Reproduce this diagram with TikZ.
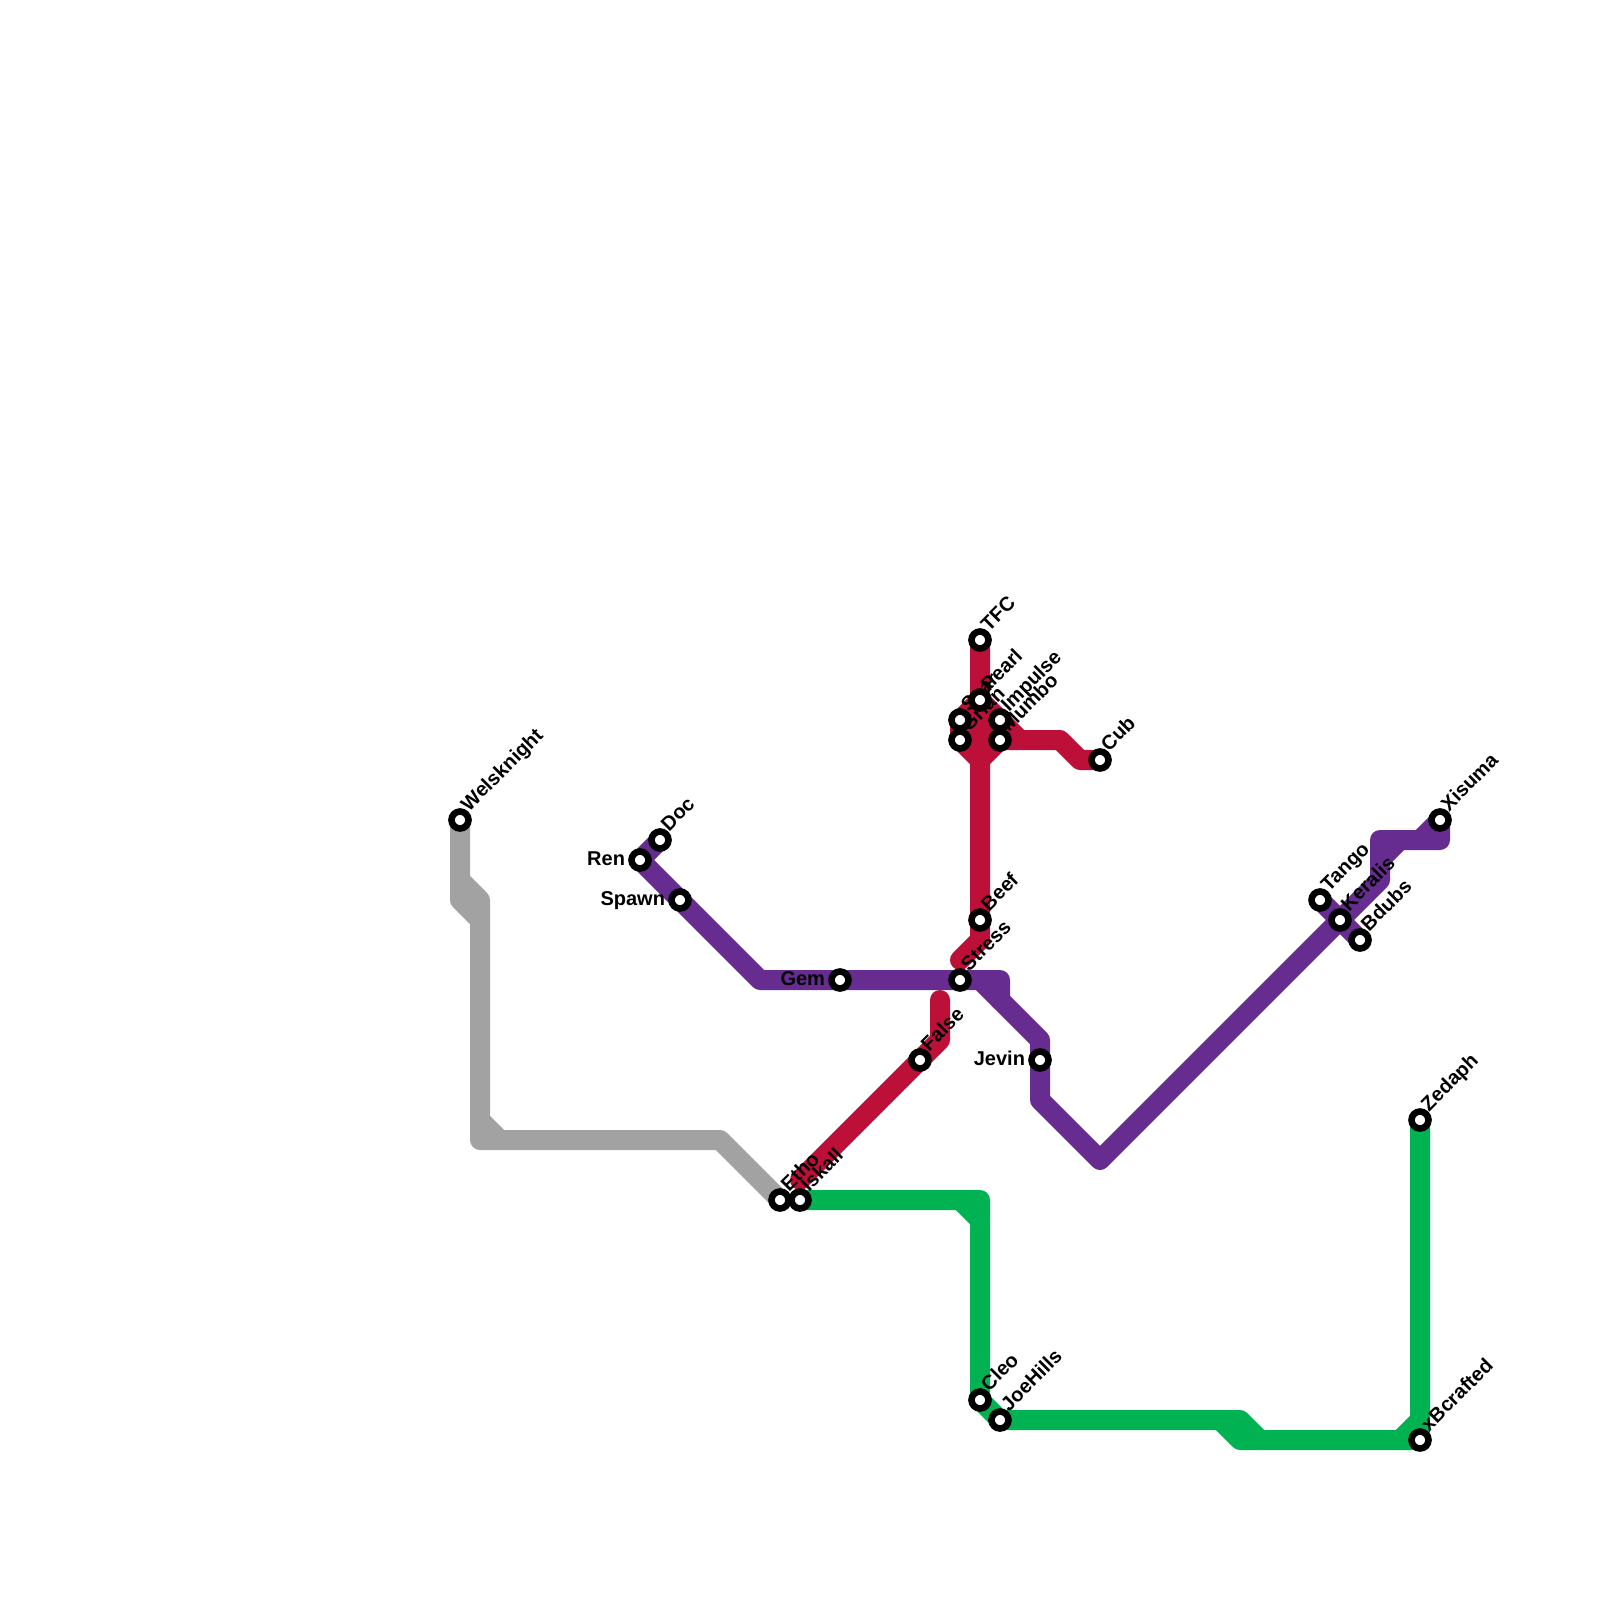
\documentclass[tikz,border=0pt]{standalone}
\usepackage{fontspec}
\setmainfont{Liberation Sans}
\pgfdeclarelayer{backdrop}
\pgfdeclarelayer{lines}
\pgfdeclarelayer{labels}
\pgfsetlayers{backdrop,lines,labels,main}
\definecolor{mred}{HTML}{BD1038}
\definecolor{mpurple}{HTML}{662C90}
\definecolor{mgreen}{HTML}{00B251}
\definecolor{mgrey}{HTML}{A2A2A2}
\tikzset{
  stn/.style={circle,draw=black,fill=white,line width=6.6pt,minimum size=17pt,inner sep=0pt,outer sep=0pt},
  txt/.style={font=\fontsize{20}{20}\selectfont\bfseries,text=black,inner sep=0pt,outer sep=0pt},
  rl/.style={txt,rotate=45,anchor=base west},
  ll/.style={txt,anchor=base east},
  mline/.style={line width=20pt,line cap=round,line join=round},
  redl/.style={mline,draw=mred},
  purl/.style={mline,draw=mpurple},
  grnl/.style={mline,draw=mgreen},
  gryl/.style={mline,draw=mgrey}
}
% station with label up-right
\newcommand{\stnR}[4]{%
  \node[stn] (#1) at (#2,#3) {};
  \begin{pgfonlayer}{labels}
  \node[rl] (#1-t) at ([shift={(9pt,8pt)}]#2pt,-#3pt) {#4};
  \end{pgfonlayer}}
% station with label to the left
\newcommand{\stnL}[4]{%
  \node[stn] (#1) at (#2,#3) {};
  \begin{pgfonlayer}{labels}
  \node[ll] (#1-t) at ([shift={(-15pt,-5pt)}]#2pt,-#3pt) {#4};
  \end{pgfonlayer}}
\begin{document}
\begin{tikzpicture}[x=1pt,y=-1pt]
\useasboundingbox (0,0) rectangle (1600,1600);
\begin{pgfonlayer}{backdrop}
\fill[white] (0,0) rectangle (1600,1600);
\end{pgfonlayer}
% stations
\stnR{welsk}{460}{820}{Welsknight}
\stnR{doc}{660}{840}{Doc}
\stnL{ren}{640}{860}{Ren}
\stnL{spawn}{680}{900}{Spawn}
\stnL{gem}{840}{980}{Gem}
\stnR{stress}{960}{980}{Stress}
\stnR{false}{920}{1060}{False}
\stnL{jevin}{1040}{1060}{Jevin}
\stnR{etho}{780}{1200}{Etho}
\stnR{iskall}{800}{1200}{Iskall}
\stnR{tfc}{980}{640}{TFC}
\stnR{scar}{960}{720}{Scar}
\stnR{grian}{960}{740}{Grian}
\stnR{pearl}{980}{700}{Pearl}
\stnR{impulse}{1000}{720}{Impulse}
\stnR{mumbo}{1000}{740}{Mumbo}
\stnR{cub}{1100}{760}{Cub}
\stnR{beef}{980}{920}{Beef}
\stnR{tango}{1320}{900}{Tango}
\stnR{keralis}{1340}{920}{Keralis}
\stnR{bdubs}{1360}{940}{Bdubs}
\stnR{xisuma}{1440}{820}{Xisuma}
\stnR{zedaph}{1420}{1120}{Zedaph}
\stnR{xb}{1420}{1440}{xBcrafted}
\stnR{cleo}{980}{1400}{Cleo}
\stnR{joe}{1000}{1420}{JoeHills}
% way points
\coordinate (g1) at (460,880); \coordinate (g2) at (480,900);
\coordinate (g3) at (460,900); \coordinate (g4) at (480,920);
\coordinate (g5) at (480,1120); \coordinate (g6) at (500,1140);
\coordinate (g7) at (480,1140); \coordinate (g8) at (720,1140);
\coordinate (r1) at (980,760); \coordinate (r2) at (1020,740);
\coordinate (r3) at (1060,740); \coordinate (r4) at (1080,760);
\coordinate (r5) at (980,940); \coordinate (r6) at (960,960);
\coordinate (r7) at (940,1000); \coordinate (r8) at (940,1040);
\coordinate (r9) at (800,1180);
\coordinate (p1) at (760,980); \coordinate (p2) at (1000,980);
\coordinate (p3) at (980,980); \coordinate (p4) at (1040,1040);
\coordinate (p5) at (1000,1000); \coordinate (p6) at (1040,1100);
\coordinate (p7) at (1100,1160); \coordinate (p8) at (1380,880);
\coordinate (p9) at (1380,840); \coordinate (p10) at (1440,840);
\coordinate (p11) at (1400,840); \coordinate (p12) at (1380,860);
\coordinate (p13) at (1420,840);
\coordinate (n1) at (980,1200); \coordinate (n2) at (960,1200);
\coordinate (n3) at (980,1220); \coordinate (n4) at (1240,1420);
\coordinate (n5) at (1260,1440); \coordinate (n6) at (1220,1420);
\coordinate (n7) at (1240,1440); \coordinate (n8) at (1420,1420);
\coordinate (n9) at (1400,1440);
\begin{pgfonlayer}{lines}
% grey
\draw[gryl] (welsk.center) -- (g3) -- (g4) -- (g7) -- (g8) -- (etho.center);
\draw[gryl] (g1) -- (g2) -- (g4);
\draw[gryl] (g5) -- (g6);
% red
\draw[redl] (tfc.center) -- (beef.center) -- (r5) -- (r6);
\draw[redl] (pearl.center) -- (scar.center) -- (grian.center) -- (r1) -- (mumbo.center) -- (impulse.center) -- (pearl.center);
\draw[redl] (scar.center) -- (impulse.center);
\draw[redl] (grian.center) -- (mumbo.center) -- (r3) -- (r4) -- (cub.center);
\draw[redl] (impulse.center) -- (r2);
\draw[redl] (r7) -- (r8) -- (false.center) -- (r9);
% purple
\draw[purl] (doc.center) -- (ren.center) -- (spawn.center) -- (p1) -- (gem.center) -- (stress.center) -- (p2) -- (p5);
\draw[purl] (p3) -- (p4) -- (jevin.center) -- (p6) -- (p7) -- (keralis.center) -- (p8) -- (p9) -- (p10) -- (xisuma.center) -- (p13);
\draw[purl] (tango.center) -- (keralis.center) -- (bdubs.center);
\draw[purl] (p11) -- (p12);
% green
\draw[grnl] (iskall.center) -- (n1) -- (cleo.center) -- (joe.center) -- (n4) -- (n5) -- (xb.center) -- (zedaph.center);
\draw[grnl] (n2) -- (n3);
\draw[grnl] (n6) -- (n7) -- (n5);
\draw[grnl] (n8) -- (n9);
\end{pgfonlayer}
\end{tikzpicture}
\end{document}
